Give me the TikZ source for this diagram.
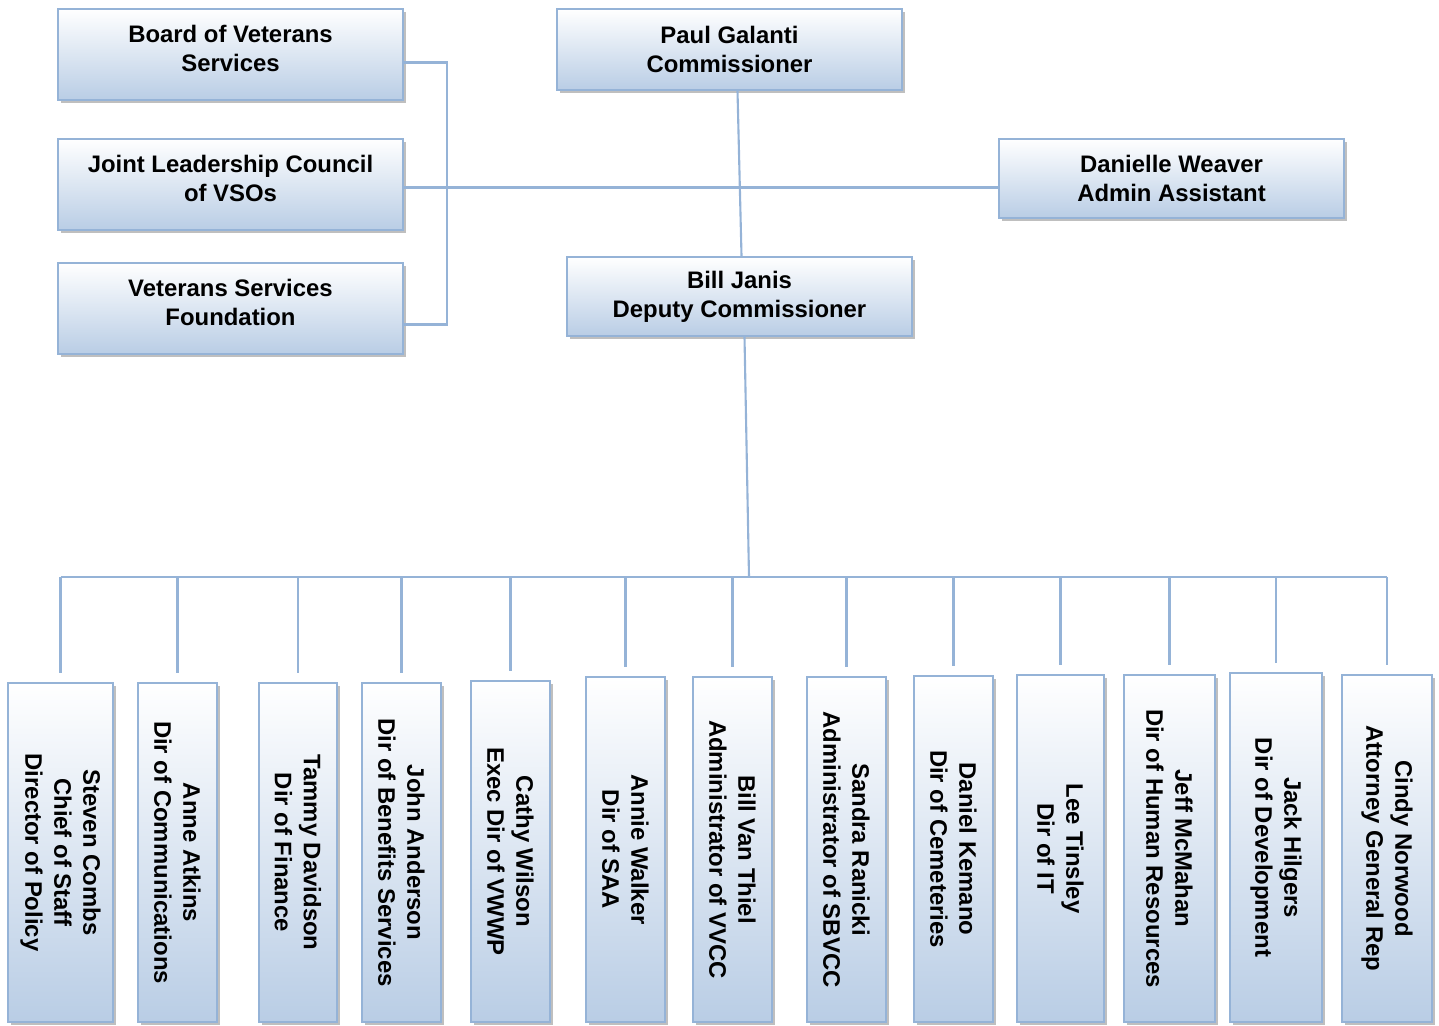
\documentclass[tikz,border=0pt]{standalone}
\usepackage{fontspec}
\setmainfont{Liberation Sans}
\usetikzlibrary{calc, positioning}
\usetikzlibrary{shadows}
\definecolor{lineblue}{HTML}{95B3D7}
\definecolor{fillblue}{HTML}{B9CDE5}
\def\px{0.02cm}
\def\bw{345}
\tikzset{
    orgbox/.style = {
        draw=lineblue, line width=1.2pt, rectangle, top color=white, bottom color=fillblue,
        minimum width=\bw*\px, align=center, font=\bfseries\fontsize{13.6}{16.5}\selectfont,
        drop shadow={shadow xshift=0.06cm, shadow yshift=-0.06cm, fill=black!50}
    },
    sidebox/.style = {
        orgbox, minimum height=91*\px, text depth=0.24cm
    },
    staffbox/.style = {
        orgbox, rotate=-90
    },
    link/.style = {draw=lineblue, line width=1.2pt},
}

\begin{document}
\begin{tikzpicture}[x=\px, y=-\px]
        \useasboundingbox (0,0) rectangle (1439,1026);
        % Place the blocks
        \node[sidebox] (brd) at (230.5,54.5) {Board of Veterans\\Services};
        \node[sidebox] (jnt) at (230.5,184.5) {Joint Leadership Council\\of VSOs};
        \node[sidebox] (fnd) at (230.5,308.5) {Veterans Services\\Foundation};
        \node[orgbox, minimum height=81*\px] (paul) at (729.5,49.5) {Paul Galanti\\Commissioner};
        \node[orgbox, minimum height=79*\px] (dan) at (1171.5,178.5) {Danielle Weaver\\Admin Assistant};
        \node[orgbox, minimum height=79*\px] (bill) at (739.5,296.5) {Bill Janis\\Deputy Commissioner};

        % Staff along the bottom
        \foreach \nm/\xa/\xb/\yt/\txt in {
            s1/8/113/683/{Steven Combs\\Chief of Staff\\Director of Policy},
            s2/138/217/683/{Anne Atkins\\Dir of Communications},
            s3/259/337/683/{Tammy Davidson\\Dir of Finance},
            s4/362/441/683/{John Anderson\\Dir of Benefits Services},
            s5/471/550/681/{Cathy Wilson\\Exec Dir of VWWP},
            s6/586/665/677/{Annie Walker\\Dir of SAA},
            s7/693/772/677/{Bill Van Thiel\\Administrator of VVCC},
            s8/807/886/677/{Sandra Ranicki\\Administrator of SBVCC},
            s9/914/993/676/{Daniel Kemano\\Dir of Cemeteries},
            s10/1017/1104/675/{Lee Tinsley\\Dir of IT},
            s11/1124/1215/675/{Jeff McMahan\\Dir of Human Resources},
            s12/1230/1322/673/{Jack Hilgers\\Dir of Development},
            s13/1342/1432/675/{Cindy Norwood\\Attorney General Rep}}{
            \node[staffbox, minimum width=(1022-\yt)*\px, minimum height=(\xb-\xa)*\px]
                (\nm) at ({(\xa+\xb)/2},{(\yt+1022)/2}) {\txt};
        }

        % Draw connections
        \draw[link] ($(brd.east)+(0,8)$) -- ++(43,0) |- ($(fnd.east)+(0,16)$);
        \draw[link] ($(jnt.east)+(0,3)$) -- ($(jnt.east -| dan.west)+(0,3)$);
        \draw[link] ($(paul.south)+(8,0)$) -- ($(bill.north)+(2,0)$);
        \coordinate (bus) at (749,577);
        \draw[link] ($(bill.south)+(5,0)$) -- (bus);
        \draw[link] (bus -| s1.west) -- (bus -| s13.west);
        \foreach \i in {1,...,13}{
            \draw[link, shorten >=5pt] (bus -| s\i.west) -- (s\i.west);
        }
\end{tikzpicture}
\end{document}
